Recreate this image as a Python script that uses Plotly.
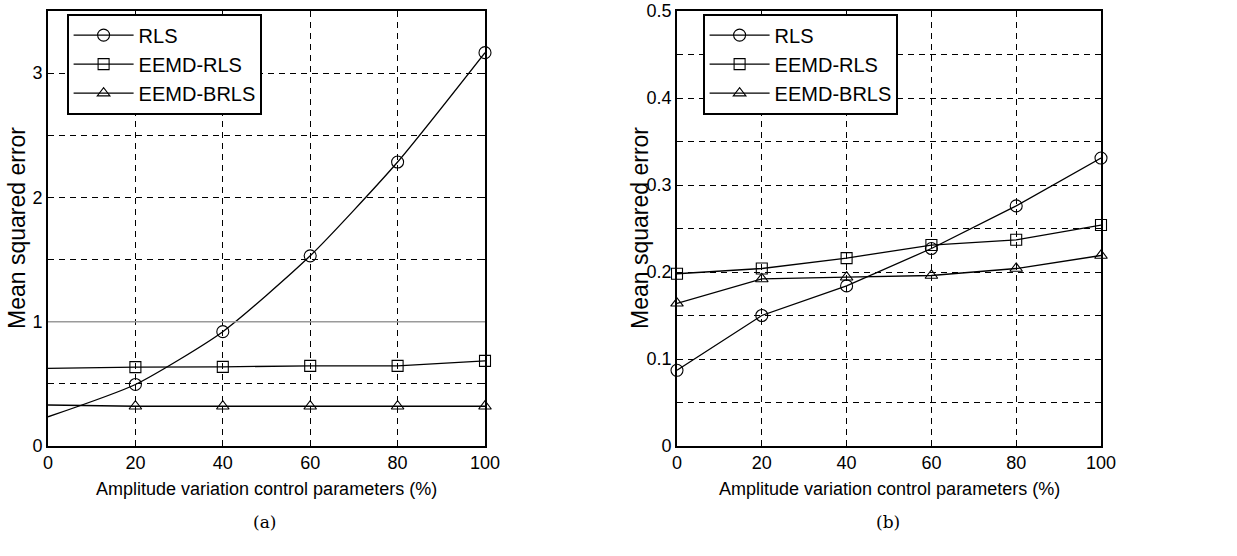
import plotly.graph_objects as go

x_vals = [0, 20, 40, 60, 80, 100]
series_names = ["RLS", "EEMD-RLS", "EEMD-BRLS"]
symbols = ["circle-open", "square-open", "triangle-up-open"]

# Panel (a)
a_rls = [0.235, 0.495, 0.92, 1.53, 2.285, 3.165]
a_eemd_rls = [0.625, 0.635, 0.637, 0.645, 0.645, 0.685]
a_eemd_brls = [0.33, 0.32, 0.32, 0.32, 0.32, 0.32]
# Panel (b)
b_rls = [0.087, 0.15, 0.184, 0.227, 0.276, 0.331]
b_eemd_rls = [0.198, 0.204, 0.216, 0.231, 0.237, 0.254]
b_eemd_brls = [0.164, 0.192, 0.194, 0.196, 0.204, 0.219]

a_yticks = [0, 0.5, 1, 1.5, 2, 2.5, 3, 3.5]
a_yticktext = ["0", "", "1", "", "2", "", "3", ""]
b_yticks = [0, 0.05, 0.1, 0.15, 0.2, 0.25, 0.3, 0.35, 0.4, 0.45, 0.5]
b_yticktext = ["0", "", "0.1", "", "0.2", "", "0.3", "", "0.4", "", "0.5"]
x_ticks = [0, 20, 40, 60, 80, 100]

FONT = "Liberation Sans, Arial, sans-serif"
fig = go.Figure()

a_series = [a_rls, a_eemd_rls, a_eemd_brls]
b_series = [b_rls, b_eemd_rls, b_eemd_brls]
msize = [12, 11, 11]

for i, (name, ys) in enumerate(zip(series_names, a_series)):
    fig.add_trace(go.Scatter(
        x=x_vals, y=ys, name=name, mode="lines+markers",
        line=dict(color="black", width=1.3, shape="spline" if i == 0 else "linear", smoothing=0.6),
        marker=dict(symbol=symbols[i], size=msize[i], color="black", line=dict(width=1.1, color="black")),
        selectedpoints=[1, 2, 3, 4, 5],
        selected=dict(marker=dict(opacity=1)),
        unselected=dict(marker=dict(opacity=0)),
        xaxis="x", yaxis="y", legend="legend", cliponaxis=False))

for i, (name, ys) in enumerate(zip(series_names, b_series)):
    fig.add_trace(go.Scatter(
        x=x_vals, y=ys, name=name, mode="lines+markers",
        line=dict(color="black", width=1.3),
        marker=dict(symbol=symbols[i], size=msize[i], color="black", line=dict(width=1.1, color="black")),
        xaxis="x2", yaxis="y2", legend="legend2", cliponaxis=False))

W, H = 1237, 556
def px_x(p):
    return p / W
def px_y(p):
    return 1 - p / H

axis_common = dict(showline=True, mirror="ticks", linecolor="black", linewidth=1.6,
                   ticks="inside", ticklen=5, tickcolor="black", tickwidth=1,
                   showgrid=True, gridcolor="black", gridwidth=1, griddash="6px,5px",
                   zeroline=False, automargin=False,
                   tickfont=dict(family=FONT, size=18, color="black"))

legend_common = dict(xanchor="left", yanchor="top", bgcolor="white",
                     bordercolor="black", borderwidth=1.6,
                     font=dict(family=FONT, size=20, color="black"),
                     tracegroupgap=0, itemwidth=60, itemsizing="trace")

xtitle_font = dict(family=FONT, size=18, color="black")
ytitle_font = dict(family=FONT, size=23, color="black")
cap_font = dict(family="DejaVu Serif, Liberation Serif, serif", size=17, color="black")

fig.update_layout(
    width=W, height=H, paper_bgcolor="white", plot_bgcolor="white",
    margin=dict(l=0, r=0, t=0, b=0, autoexpand=False),
    showlegend=True,
    xaxis=dict(domain=[px_x(48), px_x(485)], range=[0, 100], tickvals=x_ticks, anchor="y", **axis_common),
    yaxis=dict(domain=[px_y(446), px_y(11)], range=[0, 3.5], tickvals=a_yticks, ticktext=a_yticktext,
               anchor="x", **axis_common),
    xaxis2=dict(domain=[px_x(677), px_x(1101)], range=[0, 100], tickvals=x_ticks, anchor="y2", **axis_common),
    yaxis2=dict(domain=[px_y(446), px_y(11)], range=[0, 0.5], tickvals=b_yticks, ticktext=b_yticktext,
                anchor="x2", **axis_common),
    legend=dict(x=px_x(67), y=px_y(14), **legend_common),
    legend2=dict(x=px_x(703), y=px_y(14), **legend_common),
    shapes=[dict(type="line", xref="x", yref="y", x0=0, x1=100, y0=1, y1=1,
                 line=dict(color="#9a9a9a", width=1.4), layer="above")],
    annotations=[
        dict(text="Amplitude variation control parameters (%)", x=0.5, y=px_y(489), xref="x domain",
             yref="paper", xanchor="center", yanchor="middle", showarrow=False, font=xtitle_font),
        dict(text="Amplitude variation control parameters (%)", x=0.5, y=px_y(489), xref="x2 domain",
             yref="paper", xanchor="center", yanchor="middle", showarrow=False, font=xtitle_font),
        dict(text="Mean squared error", x=px_x(17), y=px_y(228), xref="paper", yref="paper", textangle=-90,
             xanchor="center", yanchor="middle", showarrow=False, font=ytitle_font),
        dict(text="Mean squared error", x=px_x(640), y=px_y(228), xref="paper", yref="paper", textangle=-90,
             xanchor="center", yanchor="middle", showarrow=False, font=ytitle_font),
        dict(text="(a)", x=0.495, y=px_y(522), xref="x domain", yref="paper",
             xanchor="center", yanchor="middle", showarrow=False, font=cap_font),
        dict(text="(b)", x=0.498, y=px_y(522), xref="x2 domain", yref="paper",
             xanchor="center", yanchor="middle", showarrow=False, font=cap_font),
    ],
)

fig.write_html("out.html", config={"displayModeBar": False},
               post_script="document.body.style.margin='0px';document.body.style.overflow='hidden';")
